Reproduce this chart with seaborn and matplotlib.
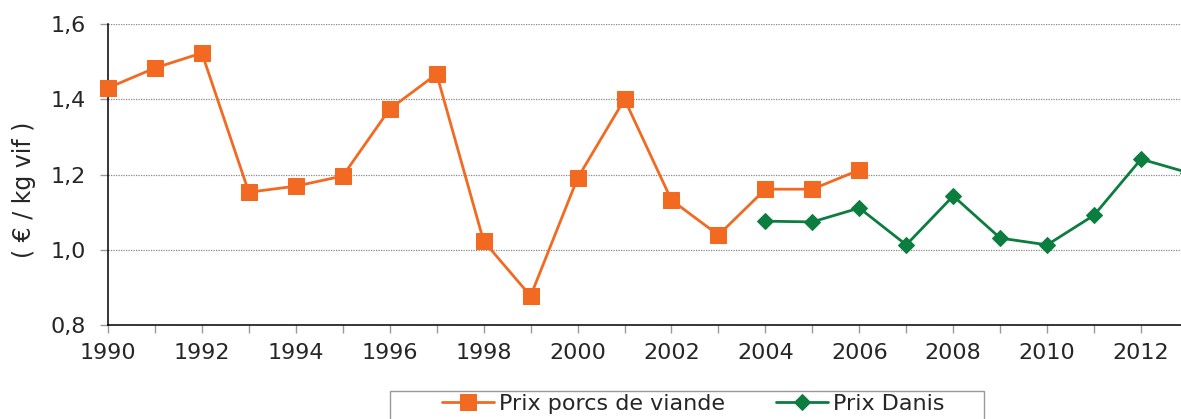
import matplotlib
matplotlib.use('Agg')
import matplotlib.pyplot as plt
from matplotlib.patches import Rectangle
import pandas as pd
import seaborn as sns

years_porcs = list(range(1990, 2007))
prix_porcs = [1.43, 1.483, 1.523, 1.153, 1.169, 1.196, 1.374, 1.467, 1.023, 0.877,
              1.19, 1.40, 1.132, 1.039, 1.161, 1.161, 1.212]

years_danis = list(range(2004, 2014))
prix_danis = [1.076, 1.074, 1.111, 1.013, 1.143, 1.031, 1.013, 1.092, 1.241, 1.205]

y_ticks = [0.8, 1.0, 1.2, 1.4, 1.6]
x_years = list(range(1990, 2013))

orange = '#F26A21'
green = '#0B7D3E'
txt = '#262626'

sns.set_style('white')
plt.rcParams['font.family'] = ['DejaVu Sans']

df_p = pd.DataFrame({'annee': years_porcs, 'prix': prix_porcs})
df_d = pd.DataFrame({'annee': years_danis, 'prix': prix_danis})

fig = plt.figure(figsize=(11.81, 4.19), dpi=100)
ax = fig.add_axes([0.0914, 0.2243, 0.9086, 0.7184])

sns.lineplot(data=df_p, x='annee', y='prix', ax=ax, color=orange, linewidth=2.0,
             marker='s', markersize=11, markeredgecolor=orange, label='Prix porcs de viande',
             clip_on=False, zorder=3)
sns.lineplot(data=df_d, x='annee', y='prix', ax=ax, color=green, linewidth=2.0,
             marker='D', markersize=8.5, markeredgecolor=green, label='Prix Danis', zorder=3)

ax.set_xlim(1990, 2012.85)
ax.set_ylim(0.8, 1.6)
ax.set_yticks(y_ticks)
ax.set_yticklabels([f'{v:.1f}'.replace('.', ',') for v in y_ticks])
ax.set_xticks(x_years)
ax.set_xticklabels([str(y) if y % 2 == 0 else '' for y in x_years])
ax.grid(axis='y', color='#888888', linestyle=(0, (1, 1)), linewidth=0.9)
ax.grid(axis='x', visible=False)

for s in ['top', 'right']:
    ax.spines[s].set_visible(False)
for s in ['left', 'bottom']:
    ax.spines[s].set_color('black')
    ax.spines[s].set_linewidth(1.1)

ax.tick_params(axis='both', which='major', direction='out', length=5.8, width=1,
               color='#999999', labelsize=16, labelcolor=txt, bottom=True, left=True)
ax.tick_params(axis='x', pad=7)
ax.tick_params(axis='y', pad=10)
ax.set_xlabel('')
ax.set_ylabel('( € / kg vif )', fontsize=17, color=txt)
ax.yaxis.set_label_coords(-0.067, 0.449)

ax.get_legend().remove()
handles, labels = ax.get_legend_handles_labels()
leg = fig.legend(handles, labels, loc='upper left', bbox_to_anchor=(442 / 1181, 1 - 394 / 419),
                 ncol=2, frameon=False, fontsize=16, handlelength=2.35,
                 columnspacing=2.3, borderpad=0, borderaxespad=0, handletextpad=0.22)
for t in leg.get_texts():
    t.set_color(txt)

# legend frame, cut by the bottom edge like in the original
fig.patches.append(Rectangle((390 / 1181, -0.05), 594 / 1181, 1 - 391 / 419 + 0.05,
                             transform=fig.transFigure, fill=False,
                             edgecolor='#999999', linewidth=1))

fig.savefig('out.png', dpi=100)
